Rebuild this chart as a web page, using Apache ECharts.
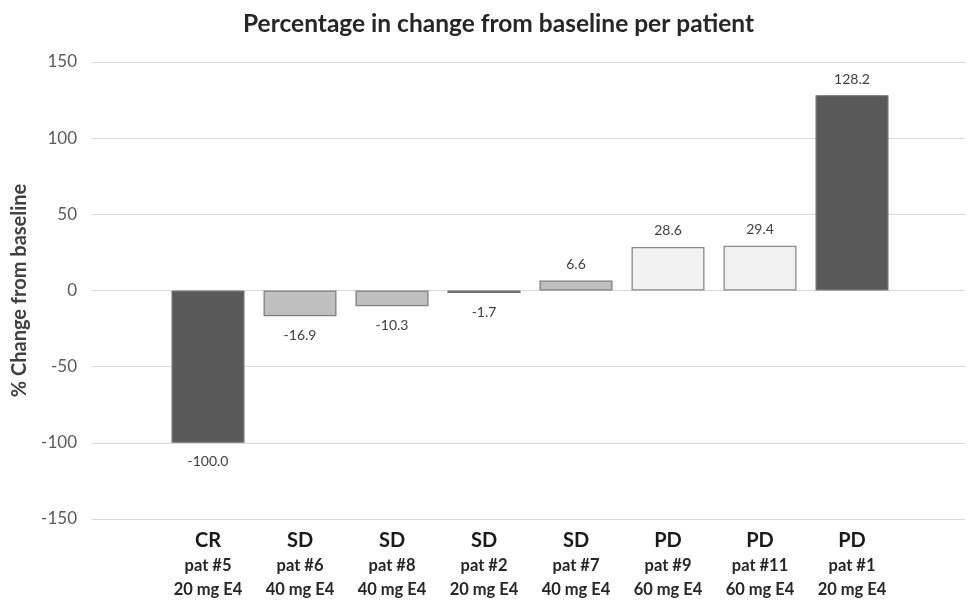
<!DOCTYPE html>
<html><head><meta charset="utf-8">
<script src="https://cdn.jsdelivr.net/npm/echarts@6/dist/echarts.min.js"></script>
<style>html,body{margin:0;padding:0;background:#fff}#c{width:970px;height:601px}</style>
</head><body><div id="c"></div>
<script>
const responses = ['CR','SD','SD','SD','SD','PD','PD','PD'];
const patients = ['pat #5','pat #6','pat #8','pat #2','pat #7','pat #9','pat #11','pat #1'];
const doses = ['20 mg E4','40 mg E4','40 mg E4','20 mg E4','40 mg E4','60 mg E4','60 mg E4','20 mg E4'];
const values = [-100.0, -16.9, -10.3, -1.7, 6.6, 28.6, 29.4, 128.2];
const yTicks = {min: -150, max: 150, interval: 50};

const fillFor = {'20 mg E4': '#595959', '40 mg E4': '#bfbfbf', '60 mg E4': '#f2f2f2'};
const borderFor = {'20 mg E4': '#6e6e6e', '40 mg E4': '#7f7f7f', '60 mg E4': '#8a8a8a'};
const categories = responses.map((r, i) => r + '|' + patients[i] + '|' + doses[i]);
const font = 'Lato, "Open Sans", sans-serif';

const chart = echarts.init(document.getElementById('c'));
chart.setOption({
  animation: false,
  title: {
    text: 'Percentage in change from baseline per patient',
    left: 238, top: 7,
    textStyle: {fontFamily: font, fontSize: 24.5, fontWeight: 'bold', color: '#262626'}
  },
  grid: [
    {left: 92, right: 5, top: 62, height: 457},
    {left: 162, width: 736, top: 62, height: 457}
  ],
  xAxis: [
    {gridIndex: 0, type: 'category', data: [], show: false},
    {gridIndex: 1, type: 'category', data: categories,
     axisLine: {show: false}, axisTick: {show: false},
     axisLabel: {
       margin: 9, interval: 0,
       formatter: function (v) {
         const p = v.split('|');
         return '{a|' + p[0] + '}\n{b|' + p[1] + '}\n{b|' + p[2] + '}';
       },
       rich: {
         a: {fontFamily: font, fontSize: 20, fontWeight: 'bold', color: '#1a1a1a', lineHeight: 26},
         b: {fontFamily: font, fontSize: 16.5, fontWeight: 'bold', color: '#262626', lineHeight: 24}
       }
     }}
  ],
  yAxis: [
    {gridIndex: 0, type: 'value', min: yTicks.min, max: yTicks.max, interval: yTicks.interval,
     axisLine: {show: false}, axisTick: {show: false},
     axisLabel: {margin: 15, fontFamily: font, fontSize: 17, color: '#595959'},
     splitLine: {lineStyle: {color: '#d9d9d9', width: 1}},
     name: '% Change from baseline', nameLocation: 'middle', nameGap: 62, nameRotate: 90,
     nameTextStyle: {fontFamily: font, fontSize: 20, fontWeight: 'bold', color: '#404040'}},
    {gridIndex: 1, type: 'value', min: yTicks.min, max: yTicks.max, interval: yTicks.interval, show: false,
     splitLine: {show: false}}
  ],
  series: [{
    type: 'bar', xAxisIndex: 1, yAxisIndex: 1, barWidth: 73,
    data: values.map((v, i) => ({
      value: v,
      itemStyle: {color: fillFor[doses[i]], borderColor: borderFor[doses[i]], borderWidth: 1.3},
      label: {position: v < 0 ? 'bottom' : 'top', distance: v < 0 ? 12 : 9}
    })),
    label: {show: true, fontFamily: font, fontSize: 14, color: '#404040',
            formatter: p => p.value.toFixed(1)}
  }]
});
</script></body></html>
